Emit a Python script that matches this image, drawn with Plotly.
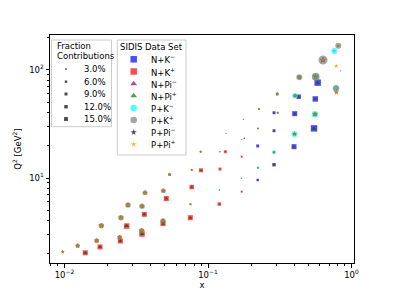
import numpy as np
import plotly.graph_objects as go

# ---------------- data ----------------
# proton-target bins (circles / stars)
p_x = [0.00972, 0.01236, 0.01677, 0.01805, 0.02425, 0.02475, 0.0277, 0.0345, 0.0347, 0.0364,
       0.0486, 0.0488, 0.0540, 0.0755, 0.0770, 0.0889, 0.1212, 0.1199, 0.1717, 0.1717,
       0.1762, 0.1335, 0.2266, 0.2230, 0.2230, 0.304, 0.306, 0.2884, 0.404, 0.4327,
       0.4006, 0.563, 0.5565, 0.633, 0.809, 0.759, 0.783, 0.841, 0.780, 0.783]
p_q2 = [2.08, 2.36, 2.63, 3.62, 2.82, 4.29, 5.62, 3.25, 5.47, 7.31,
        4.0, 7.63, 10.78, 5.71, 11.86, 17.5, 17.5, 7.74, 22.9, 9.94,
        34.96, 25.9, 43.5, 28.8, 12.46, 59.9, 40.2, 17.3, 57.8, 85.6,
        25.6, 86.7, 38.9, 123.8, 167.9, 150.0, 108.9, 98.5, 67.7, 62.2]
# fraction contributions in percent
p_km = [0, 2, 2, 2, 2, 2, 2, 2, 2, 2, 2, 2, 1, 1, 1, 1, 1, 3, 1, 1,
        1, 1, 2, 4, 6, 6, 4, 16, 30, 16, 36, 50, 42, 20, 4, 36, 0, 0, 25, 0]
p_kp = [4, 20, 25, 30, 25, 30, 30, 30, 30, 25, 30, 25, 9, 4, 4, 4, 2, 1, 1, 1,
        1, 1, 2, 2, 1, 12, 4, 4, 12, 36, 9, 60, 16, 81, 36, 4, 0, 2, 42, 0]
p_pim = [16, 25, 25, 30, 25, 30, 30, 30, 25, 25, 30, 20, 16, 9, 9, 9, 2, 1, 1, 2,
         2, 1, 9, 6, 6, 12, 6, 9, 16, 20, 20, 30, 30, 49, 9, 0, 4, 0, 0, 30]
p_pip = [16, 25, 25, 30, 25, 30, 30, 30, 25, 25, 30, 20, 16, 9, 9, 9, 2, 1, 1, 2,
         2, 1, 9, 6, 6, 12, 6, 9, 16, 20, 20, 30, 30, 49, 9, 0, 30, 0, 0, 36]

# neutron/deuteron-target bins (squares / triangles)
n_x = [0.01396, 0.01768, 0.02449, 0.0271, 0.0347, 0.0360, 0.0486, 0.0512, 0.0753, 0.0770,
       0.0894, 0.1199, 0.1212, 0.1320, 0.1717, 0.1717, 0.179, 0.222, 0.222, 0.2884,
       0.2884, 0.2884, 0.3975, 0.402, 0.4285, 0.5594, 0.548, 0.581]
n_q2 = [2.03, 2.30, 2.61, 3.59, 3.03, 4.61, 3.78, 6.46, 4.29, 8.25,
        11.78, 5.74, 12.1, 17.5, 7.47, 15.74, 23.3, 19.8, 9.58, 27.4,
        13.28, 40.2, 19.5, 39.4, 56.6, 53.9, 28.8, 76.3]
n_km = [0, 0, 0, 0, 0, 0, 0, 0, 0, 0, 0, 0, 0, 0, 0, 0, 0, 9, 6, 9,
        12, 9, 25, 25, 20, 30, 42, 42]
n_kp = [25, 25, 25, 30, 30, 25, 25, 25, 25, 20, 16, 12, 9, 9, 4, 4, 2, 1, 1, 1,
        2, 1, 2, 2, 2, 2, 3, 3]
n_pim = [16, 16, 16, 20, 20, 16, 16, 12, 12, 9, 6, 4, 2, 2, 1, 1, 1, 2, 4, 4,
         6, 4, 9, 12, 6, 12, 20, 20]
n_pip = [16, 16, 16, 20, 20, 16, 16, 12, 12, 9, 6, 4, 2, 2, 1, 1, 1, 1, 1, 2,
         9, 2, 12, 12, 6, 16, 25, 25]

dataset_names = ["N+K<sup>−</sup>", "N+K<sup>+</sup>", "N+Pi<sup>−</sup>", "N+Pi<sup>+</sup>",
                 "P+K<sup>−</sup>", "P+K<sup>+</sup>", "P+Pi<sup>−</sup>", "P+Pi<sup>+</sup>"]
size_legend_values = [3.0, 6.0, 9.0, 12.0, 15.0]

# ---------------- styling ----------------
colors = ["#0000ff", "#ff0000", "#800080", "#008000", "#00ffff", "#808080", "#000000", "#ffa500"]
symbols = ["square", "square", "triangle-up", "triangle-up", "circle", "circle", "star", "star"]
sym_scale = {"square": 1.0, "circle": 1.0, "triangle-up": 0.9, "star": 0.72}
FONT = "DejaVu Sans"
FS = 8.5

series = [(n_x, n_q2, n_km), (n_x, n_q2, n_kp), (n_x, n_q2, n_pim), (n_x, n_q2, n_pip),
          (p_x, p_q2, p_km), (p_x, p_q2, p_kp), (p_x, p_q2, p_pim), (p_x, p_q2, p_pip)]

fig = go.Figure()
for (xs, ys, fr), name, col, sym in zip(series, dataset_names, colors, symbols):
    xs = np.array(xs); ys = np.array(ys); fr = np.array(fr, dtype=float)
    m = fr > 0
    fig.add_trace(go.Scatter(
        x=xs[m], y=ys[m], mode="markers", name=name, showlegend=False,
        marker=dict(symbol=sym, color=col, opacity=0.7, line=dict(width=0),
                    size=np.sqrt(fr[m]) * sym_scale[sym])))

# ---------------- hand-made legends (paper fractions of plot area) ----------------
L, R, T, B = 50, 354, 35, 263
W, H = R - L, B - T
fx = lambda px: (px - L) / W
fy = lambda py: (B - py) / H

shapes = []
for (x0, x1, y0, y1) in [(51.5, 111.5, 40, 126.7), (117.3, 186, 40, 155)]:
    shapes.append(dict(type="rect", xref="paper", yref="paper", layer="below",
                       x0=fx(x0), x1=fx(x1), y0=fy(y1), y1=fy(y0),
                       line=dict(color="#cccccc", width=1), fillcolor="rgba(255,255,255,0.8)"))

ann = []
ann.append(dict(text="Fraction", x=fx(54.5), y=fy(46.2)))
ann.append(dict(text="Contributions", x=fx(54.5), y=fy(56.2)))
ann.append(dict(text="SIDIS Data Set", x=fx(151.8), y=fy(46.7), xanchor="center"))

size_rows = [69, 81.7, 94, 106.7, 119]
fig.add_trace(go.Scatter(
    x=[fx(66)] * len(size_rows), y=[fy(v) for v in size_rows], xaxis="x2", yaxis="y2",
    mode="markers", showlegend=False, hoverinfo="skip",
    marker=dict(symbol="square", color="#000000", opacity=0.7,
                size=[np.sqrt(v) for v in size_legend_values], line=dict(width=0))))
for v, r in zip(size_legend_values, size_rows):
    ann.append(dict(text=f"{v:.1f}%", x=fx(81.5), y=fy(r)))

set_rows = [59.3, 71.5, 83.7, 95.7, 108, 120, 132.3, 144.3]
for name, col, sym, r in zip(dataset_names, colors, symbols, set_rows):
    fig.add_trace(go.Scatter(
        x=[fx(133.7)], y=[fy(r)], xaxis="x2", yaxis="y2", mode="markers",
        showlegend=False, hoverinfo="skip",
        marker=dict(symbol=sym, color=col, opacity=0.7, size=6.5 * sym_scale[sym], line=dict(width=0))))
    ann.append(dict(text=name, x=fx(149.3), y=fy(r)))

for a in ann:
    a.setdefault("xanchor", "left")
    a.update(xref="paper", yref="paper", yanchor="middle", showarrow=False,
             font=dict(family=FONT, size=FS, color="black"))

# ---------------- axes ----------------
def minors(decades):
    return [m * 10.0 ** d for d in decades for m in range(2, 10)]

axis_common = dict(type="log", showline=True, linecolor="black", linewidth=1, mirror=True,
                   ticks="outside", ticklen=3.5, tickwidth=1, tickcolor="black",
                   showgrid=False, zeroline=False, automargin=False,
                   tickfont=dict(family=FONT, size=FS, color="black"))

fig.update_layout(
    width=394, height=296, margin=dict(l=L, r=394 - R, t=T, b=296 - B),
    paper_bgcolor="white", plot_bgcolor="white", showlegend=False,
    font=dict(family=FONT, size=FS, color="black"),
    xaxis=dict(range=[-2.101, 0.0174], tickmode="array", tickvals=[0.01, 0.1, 1],
               ticktext=["10<sup>−2</sup>", "10<sup>−1</sup>", "10<sup>0</sup>"],
               minor=dict(tickmode="array", tickvals=minors([-3, -2, -1]), ticks="outside",
                          ticklen=2, tickwidth=0.8, tickcolor="black", showgrid=False),
               title=dict(text="x", standoff=3, font=dict(family=FONT, size=FS)),
               **axis_common),
    yaxis=dict(range=[0.213, 2.324], tickmode="array", tickvals=[10, 100],
               ticktext=["10<sup>1</sup>", "10<sup>2</sup>"],
               minor=dict(tickmode="array", tickvals=minors([0, 1, 2]), ticks="outside",
                          ticklen=2, tickwidth=0.8, tickcolor="black", showgrid=False),
               title=dict(text="Q<sup>2</sup> [GeV<sup>2</sup>]", standoff=6,
                          font=dict(family=FONT, size=FS)),
               **axis_common),
    xaxis2=dict(overlaying="x", range=[0, 1], visible=False, fixedrange=True),
    yaxis2=dict(overlaying="y", range=[0, 1], visible=False, fixedrange=True),
    shapes=shapes, annotations=ann,
)

fig.write_html("out.html", config={"displayModeBar": False},
               post_script="document.body.style.margin='0px';document.body.style.overflow='hidden';")
